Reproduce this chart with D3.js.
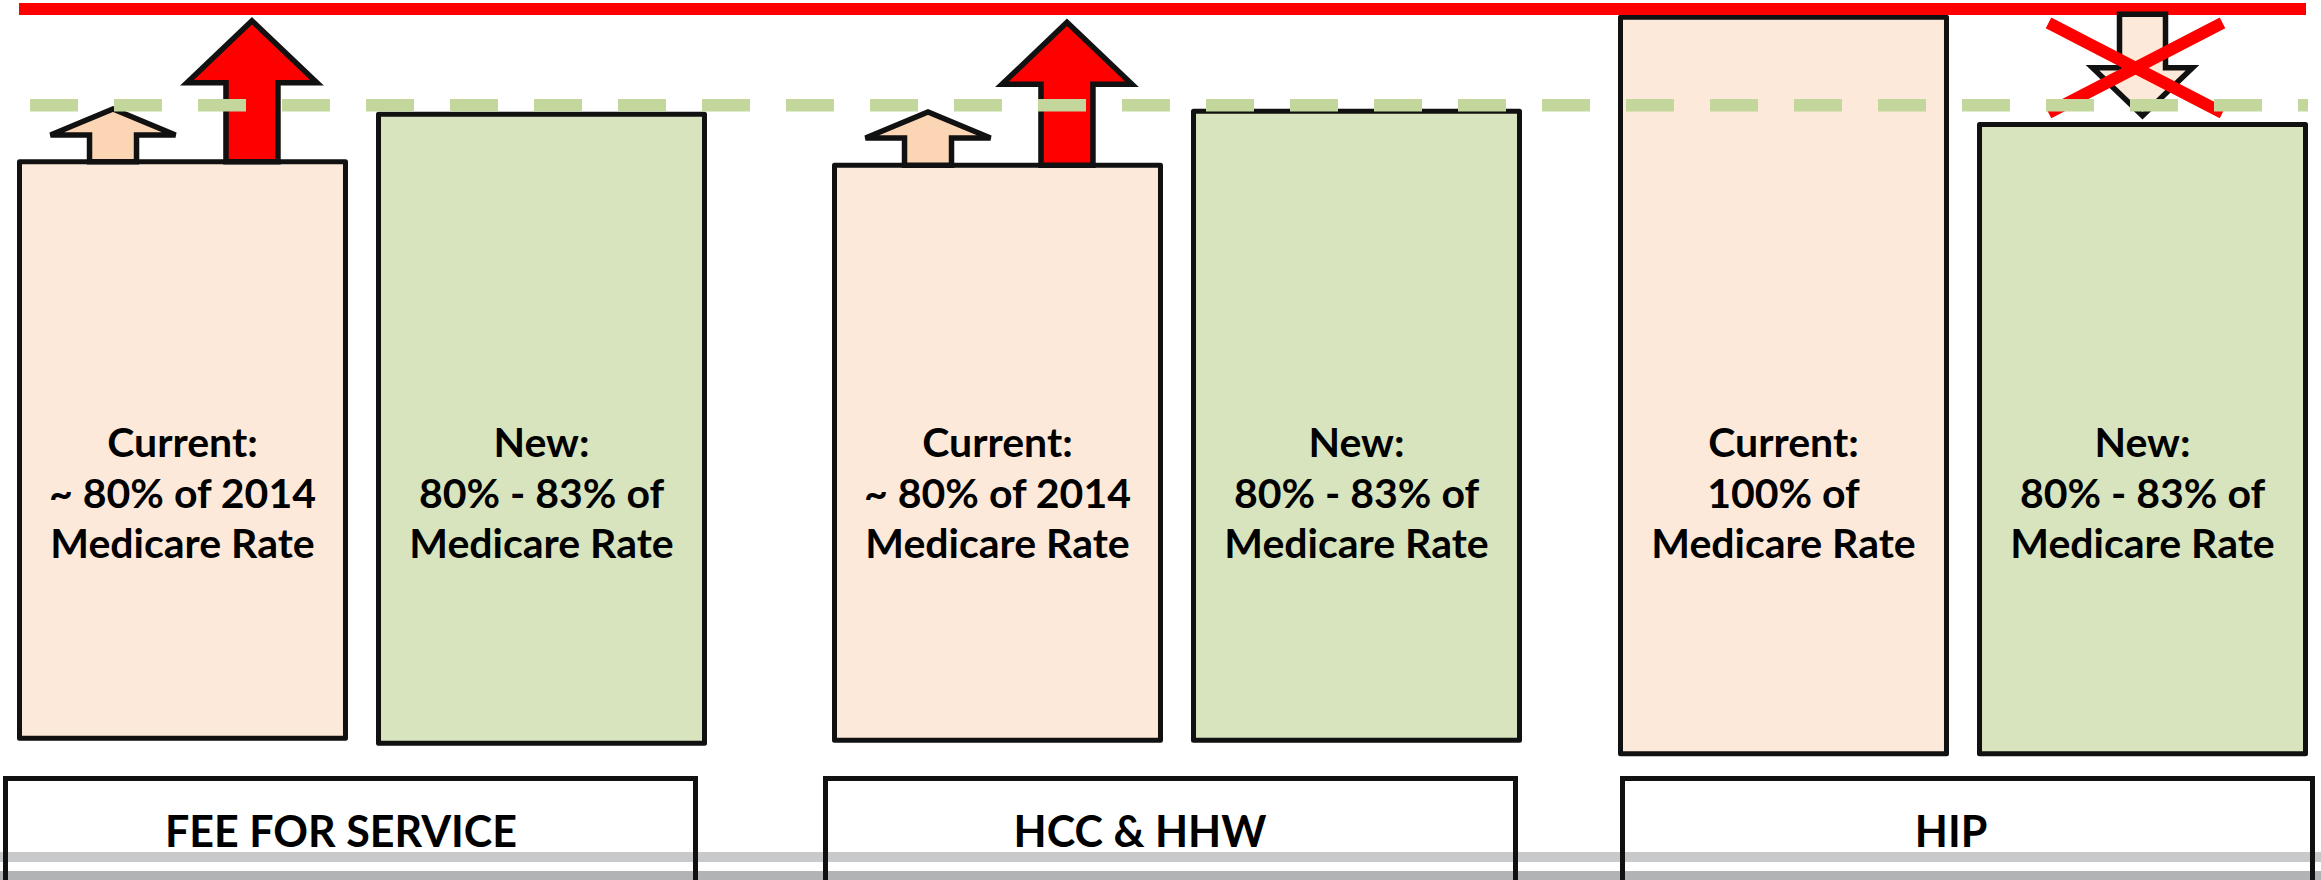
<!DOCTYPE html>
<html>
<head>
<meta charset="utf-8">
<script src="https://cdn.jsdelivr.net/npm/d3@7"></script>
<style>
body { margin: 0; background: #fff; overflow: hidden; }
text { font-family: Lato, "Open Sans", sans-serif; font-weight: 700; fill: #000; }
</style>
</head>
<body>
<script>
var width = 2321,
	height = 880;

// categories
var groups = ["FEE FOR SERVICE", "HCC & HHW", "HIP"];
var kinds = ["Current", "New"];

// levels in % of the Medicare rate (red line = 100)
var currentTops = [79.4, 78.9, 98.9];
var newTops = [85.8, 86.2, 84.4];
var currentBases = [1.6, 1.3, -0.5];
var newBases = [0.9, 1.3, -0.5];
var medicareLevel = 100;
var targetLevel = 87;

var currentText = [
	["Current:", "~ 80% of 2014", "Medicare Rate"],
	["Current:", "~ 80% of 2014", "Medicare Rate"],
	["Current:", "100% of", "Medicare Rate"]
];
var newText = [
	["New:", "80% - 83% of", "Medicare Rate"],
	["New:", "80% - 83% of", "Medicare Rate"],
	["New:", "80% - 83% of", "Medicare Rate"]
];

// up arrows sitting on the current boxes
var arrowGroups = ["FEE FOR SERVICE", "HCC & HHW"];
var smallArrowTips = [86.5, 86.1];
var bigArrowTips = [98.4, 98.2];
// crossed out down arrow on the HIP new box
var downArrowFrom = 99.3,
	downArrowTo = 85.6;

var bars = [];
groups.forEach(function(g, i) {
	bars.push({group: g, kind: "Current", top: currentTops[i], base: currentBases[i], lines: currentText[i]});
	bars.push({group: g, kind: "New", top: newTops[i], base: newBases[i], lines: newText[i]});
});

var y = d3.scaleLinear()
	.domain([0, 100])
	.range([750, 9]);

var groupX = d3.scaleOrdinal(groups, [19.5, 834.5, 1620.5]);
var kindX = d3.scaleBand(kinds, [0, 685]).paddingInner(0.092);
var slotX = d3.scalePoint(["small", "big"], [0, kindX.bandwidth()]).padding(0.673);
var labelX = d3.scaleOrdinal(groups, [5.5, 825.5, 1622.5]);
var labelMid = d3.scaleOrdinal(groups, [341, 1140, 1951]);

var svg = d3.select("body").append("svg")
	.attr("width", width)
	.attr("height", height);

// grey bands at the bottom
svg.append("rect").attr("x", 0).attr("y", 852).attr("width", width).attr("height", 10).attr("fill", "#c8c9cb");
svg.append("rect").attr("x", 0).attr("y", 871).attr("width", width).attr("height", 9).attr("fill", "#b2b3b5");

// category label boxes
svg.selectAll(".label-box")
	.data(groups)
	.enter().append("rect")
	.attr("class", "label-box")
	.attr("x", function(d) { return labelX(d); })
	.attr("y", 778.5)
	.attr("width", 690)
	.attr("height", 140)
	.attr("fill", "none")
	.attr("stroke", "#111")
	.attr("stroke-width", 5);

svg.selectAll(".label-text")
	.data(groups)
	.enter().append("text")
	.attr("class", "label-text")
	.attr("x", function(d) { return labelMid(d); })
	.attr("y", 847)
	.attr("text-anchor", "middle")
	.style("font-size", "43px")
	.text(function(d) { return d; });

// boxes
svg.selectAll(".bar")
	.data(bars)
	.enter().append("rect")
	.attr("class", "bar")
	.attr("x", function(d) { return groupX(d.group) + kindX(d.kind); })
	.attr("y", function(d) { return y(d.top); })
	.attr("width", kindX.bandwidth())
	.attr("height", function(d) { return y(d.base) - y(d.top); })
	.attr("fill", function(d) { return d.kind == "Current" ? "#fde9d9" : "#d7e4bd"; })
	.attr("stroke", "#111")
	.attr("stroke-width", 5)
	.attr("stroke-linejoin", "round");

svg.selectAll(".bar-text")
	.data(bars)
	.enter().append("text")
	.attr("class", "bar-text")
	.attr("text-anchor", "middle")
	.style("font-size", "41px")
	.attr("x", function(d) { return groupX(d.group) + kindX(d.kind) + kindX.bandwidth() / 2; })
	.attr("y", 457)
	.selectAll("tspan")
	.data(function(d) { return d.lines; })
	.enter().append("tspan")
	.attr("x", function() { return d3.select(this.parentNode).attr("x"); })
	.attr("dy", function(d, i) { return i == 0 ? 0 : 50.5; })
	.text(function(d) { return d; });

// arrow outline: shaft from base to head, head ends at tip
function arrowPath(cx, base, tip, headW, headH, shaftW) {
	var dir = tip < base ? 1 : -1;
	var hy = tip + dir * headH;
	return d3.line()([
		[cx - shaftW / 2, base],
		[cx - shaftW / 2, hy],
		[cx - headW / 2, hy],
		[cx, tip],
		[cx + headW / 2, hy],
		[cx + shaftW / 2, hy],
		[cx + shaftW / 2, base]
	]) + "Z";
}

var curTop = function(g) { return y(currentTops[groups.indexOf(g)]); };
var curLeft = function(g) { return groupX(g) + kindX("Current"); };

svg.selectAll(".small-arrow")
	.data(arrowGroups)
	.enter().append("path")
	.attr("class", "small-arrow")
	.attr("d", function(d, i) { return arrowPath(curLeft(d) + slotX("small"), curTop(d), y(smallArrowTips[i]), 125, 26, 47); })
	.attr("fill", "#fcd5b5")
	.attr("stroke", "#111")
	.attr("stroke-width", 5.5);

svg.selectAll(".big-arrow")
	.data(arrowGroups)
	.enter().append("path")
	.attr("class", "big-arrow")
	.attr("d", function(d, i) { return arrowPath(curLeft(d) + slotX("big"), curTop(d), y(bigArrowTips[i]), 130, 62, 52); })
	.attr("fill", "#ff0000")
	.attr("stroke", "#111")
	.attr("stroke-width", 5.5);

// red Medicare line
svg.append("line")
	.attr("x1", 19).attr("x2", 2306)
	.attr("y1", y(medicareLevel)).attr("y2", y(medicareLevel))
	.attr("stroke", "#ff0000")
	.attr("stroke-width", 12);

// HIP down arrow, crossed out
var hipCx = groupX("HIP") + kindX("New") + kindX.bandwidth() / 2;
svg.append("path")
	.attr("d", arrowPath(hipCx, y(downArrowFrom), y(downArrowTo), 100, 48, 46))
	.attr("fill", "#fde9d9")
	.attr("stroke", "#111")
	.attr("stroke-width", 5.5);

var xc = hipCx - 7,
	yc = (y(downArrowFrom) + y(downArrowTo)) / 2 + 3;
svg.selectAll(".cross")
	.data([1, -1])
	.enter().append("line")
	.attr("class", "cross")
	.attr("x1", function(d) { return xc - 87 * d; })
	.attr("x2", function(d) { return xc + 87 * d; })
	.attr("y1", yc - 45)
	.attr("y2", yc + 45)
	.attr("stroke", "#ff0000")
	.attr("stroke-width", 12);

// dashed target line on top
svg.append("line")
	.attr("x1", 30).attr("x2", 2308)
	.attr("y1", y(targetLevel)).attr("y2", y(targetLevel))
	.attr("stroke", "#c3d69b")
	.attr("stroke-width", 12.5)
	.attr("stroke-dasharray", "48,36");
</script>
</body>
</html>
